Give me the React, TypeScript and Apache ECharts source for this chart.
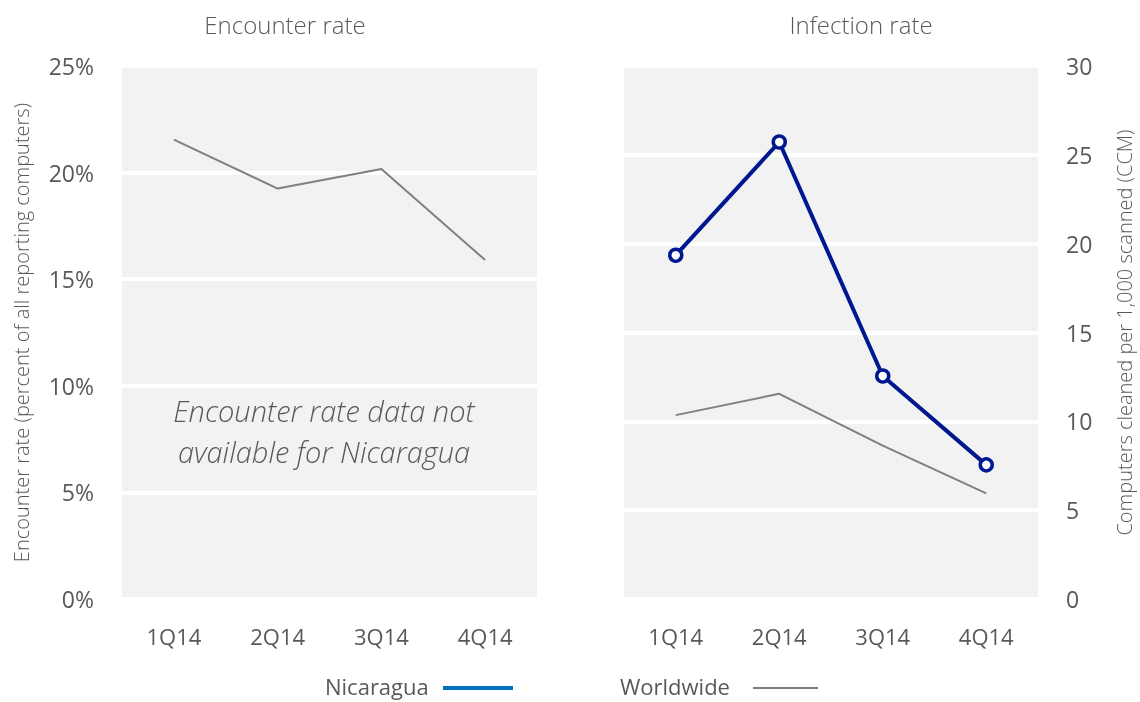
import React, { useEffect, useRef } from "react";
import * as echarts from "echarts";

const quarters = ["1Q14", "2Q14", "3Q14", "4Q14"];
const worldwideEncounter = [21.55, 19.25, 20.17, 15.9];
const nicaraguaInfection = [19.35, 25.72, 12.55, 7.55];
const worldwideInfection = [10.35, 11.55, 8.63, 5.94];
const leftTicks = [0, 25, 5];
const rightTicks = [0, 30, 5];

const FONT = "'Open Sans', 'Noto Sans', sans-serif";
const TXT = "#595959";

export default function App() {
  const ref = useRef<HTMLDivElement>(null);
  useEffect(() => {
    if (!ref.current) return;
    const chart = echarts.init(ref.current, null, { renderer: "svg" });
    const catAxis = (gridIndex: number) => ({
      type: "category",
      gridIndex,
      data: quarters,
      boundaryGap: true,
      axisLine: { show: false },
      axisTick: { show: false },
      axisLabel: { color: TXT, fontSize: 22, fontFamily: FONT, margin: 26 },
    });
    chart.setOption({
      animation: false,
      textStyle: { fontFamily: FONT },
      title: [
        {
          text: "Encounter rate",
          left: 280,
          top: 7,
          textAlign: "center",
          textStyle: { color: TXT, fontSize: 24, fontWeight: 300, fontFamily: FONT },
        },
        {
          text: "Infection rate",
          left: 856,
          top: 7,
          textAlign: "center",
          textStyle: { color: TXT, fontSize: 24, fontWeight: 300, fontFamily: FONT },
        },
      ],
      grid: [
        { left: 122, right: 603, top: 66, bottom: 103, show: true, backgroundColor: "#f2f2f2", borderWidth: 0 },
        { left: 624, right: 102, top: 66, bottom: 103, show: true, backgroundColor: "#f2f2f2", borderWidth: 0 },
      ],
      xAxis: [catAxis(0), catAxis(1)],
      yAxis: [
        {
          type: "value",
          gridIndex: 0,
          min: leftTicks[0],
          max: leftTicks[1],
          interval: leftTicks[2],
          name: "Encounter rate (percent of all reporting computers)",
          nameLocation: "middle",
          nameGap: 91,
          nameTextStyle: { color: TXT, fontSize: 20, fontFamily: FONT, fontWeight: 300 },
          axisLine: { show: false },
          axisTick: { show: false },
          axisLabel: { color: TXT, fontSize: 23, fontFamily: FONT, margin: 28, formatter: "{value}%" },
          splitLine: { show: true, lineStyle: { color: "#ffffff", width: 4 } },
        },
        {
          type: "value",
          gridIndex: 1,
          position: "right",
          min: rightTicks[0],
          max: rightTicks[1],
          interval: rightTicks[2],
          name: "Computers cleaned per 1,000 scanned (CCM)",
          nameLocation: "middle",
          nameGap: 76,
          nameRotate: 90,
          nameTextStyle: { color: TXT, fontSize: 20, fontFamily: FONT, fontWeight: 300 },
          axisLine: { show: false },
          axisTick: { show: false },
          axisLabel: { color: TXT, fontSize: 23, fontFamily: FONT, margin: 28 },
          splitLine: { show: true, lineStyle: { color: "#ffffff", width: 4 } },
        },
      ],
      series: [
        {
          name: "Worldwide",
          type: "line",
          xAxisIndex: 0,
          yAxisIndex: 0,
          data: worldwideEncounter,
          symbol: "none",
          lineStyle: { color: "#808080", width: 2 },
          itemStyle: { color: "#808080" },
        },
        {
          name: "Worldwide",
          type: "line",
          xAxisIndex: 1,
          yAxisIndex: 1,
          data: worldwideInfection,
          symbol: "none",
          lineStyle: { color: "#808080", width: 2 },
          itemStyle: { color: "#808080" },
        },
        {
          name: "Nicaragua",
          type: "line",
          xAxisIndex: 1,
          yAxisIndex: 1,
          data: nicaraguaInfection,
          symbol: "circle",
          symbolSize: 12,
          lineStyle: { color: "#00188f", width: 4 },
          itemStyle: { color: "#ffffff", borderColor: "#00188f", borderWidth: 3.5 },
        },
      ],
      graphic: [
        {
          type: "text",
          x: 324,
          y: 431,
          style: {
            text: "Encounter rate data not\navailable for Nicaragua",
            align: "center",
            verticalAlign: "middle",
            fill: TXT,
            fontFamily: FONT,
            fontStyle: "italic",
            fontWeight: 300,
            fontSize: 29,
            lineHeight: 41,
          },
        },
        {
          type: "text",
          x: 325,
          y: 686,
          style: { text: "Nicaragua", verticalAlign: "middle", fill: TXT, fontFamily: FONT, fontSize: 22 },
        },
        {
          type: "line",
          shape: { x1: 443, y1: 688, x2: 513, y2: 688 },
          style: { stroke: "#0070c0", lineWidth: 4 },
        },
        {
          type: "text",
          x: 620,
          y: 686,
          style: { text: "Worldwide", verticalAlign: "middle", fill: TXT, fontFamily: FONT, fontSize: 22 },
        },
        {
          type: "line",
          shape: { x1: 753, y1: 688, x2: 818, y2: 688 },
          style: { stroke: "#808080", lineWidth: 2 },
        },
      ],
    });
    return () => chart.dispose();
  }, []);
  return <div ref={ref} style={{ position: "fixed", left: 0, top: 0, width: 1140, height: 702 }} />;
}
